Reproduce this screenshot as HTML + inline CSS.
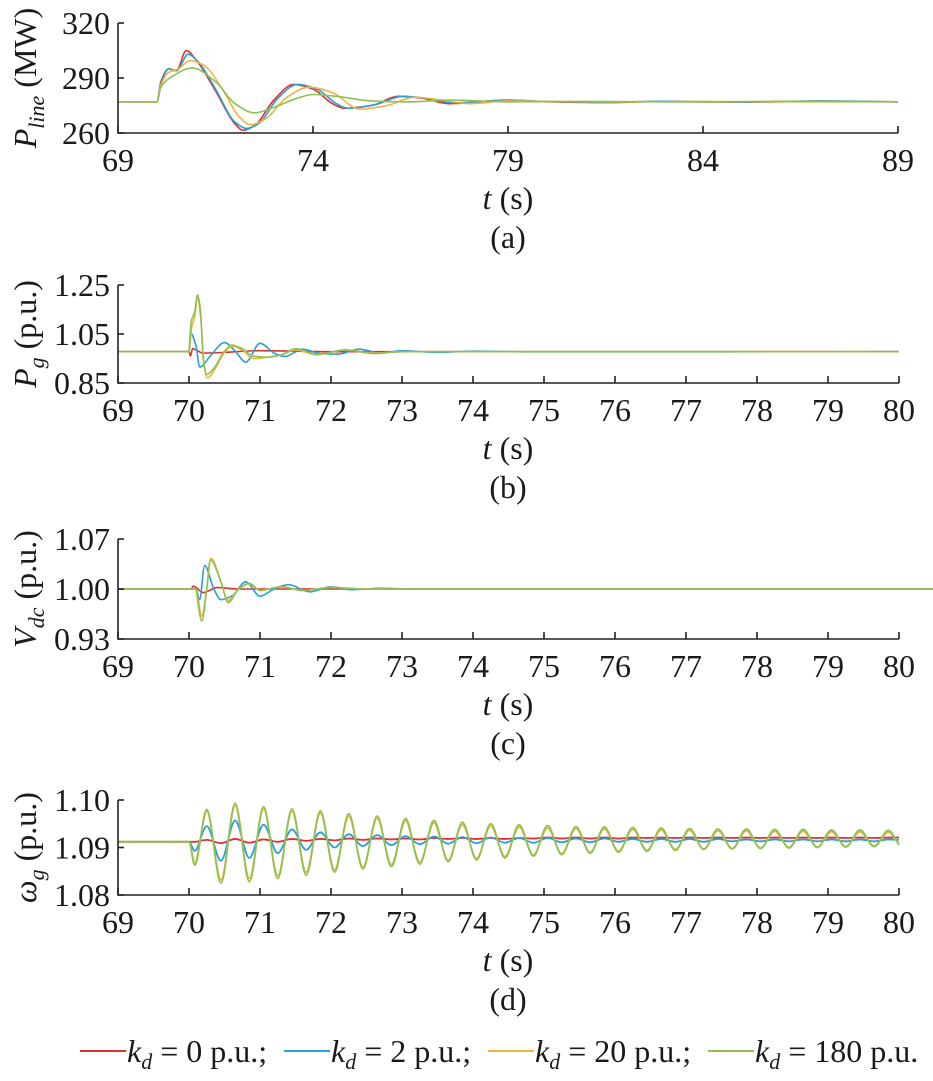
<!DOCTYPE html>
<html><head><meta charset="utf-8">
<style>
html,body{margin:0;padding:0;background:#fff;}
svg{display:block;font-family:"Liberation Serif",serif;}
</style></head>
<body>
<svg id="fig" width="933" height="1081" viewBox="0 0 933 1081" xmlns="http://www.w3.org/2000/svg"></svg>
<script>
// ---------- Panel (a): P_line (MW) ----------
const aRedT = [69,70,70.1,70.3,70.5,70.75,71,71.5,72,72.2,72.5,73,73.5,74,74.5,74.8,75.5,76.2,76.8,77.5,78,78.5,79,80,81.5,83,85,87,89];
const aRedV = [277,277,288,295,294,305,300,283,265,261.5,264,278,286.5,284,276,273.5,275,280,279,276,276.5,277.5,278,277,276.6,277.2,276.8,277.4,277];
const aBlueT = [69,70,70.1,70.3,70.5,70.8,71.05,71.5,72,72.3,72.6,73.1,73.6,74.1,74.6,74.9,75.6,76.3,76.9,77.6,78.2,79,80,81.5,83,85,87,89];
const aBlueV = [277,277,287,295,294,303,299,284,266,262.5,265,279,286.5,284,276,273.5,275.5,280,279,276.5,277,278,277.2,276.8,277.3,276.9,277.5,277];
const aOrangeT = [69,70,70.1,70.3,70.55,70.85,71.2,71.7,72.1,72.4,72.8,73.3,73.9,74.5,75.2,75.9,76.6,77.3,78,79,80,82,84,86,89];
const aOrangeV = [277,277,286,293,295,299.5,297,283,269,264.5,268,279,285,282,273,275,279.5,278,276,277.5,277.2,276.9,277.2,277,277];
const aGreenT = [69,70,70.1,70.4,70.9,71.5,72,72.5,73,73.6,74,74.6,75.5,76.5,77.5,79,81,84,86,89];
const aGreenV = [277,277,285,291,295.5,288,276,271,274,279,281,280,277.5,277,278,277,277.2,276.9,277.3,277];
const aYTicks = [260,290,320];
const aXTicks = [69,74,79,84,89];

// ---------- Panel (b): P_g (p.u.) ----------
const bRedT = [69,70,70.02,70.05,70.2,70.5,71,72,80];
const bRedV = [0.978,0.978,0.96,0.99,0.972,0.975,0.982,0.978,0.978];
const bBlueT = [69,70,70.02,70.1,70.15,70.3,70.5,70.65,70.8,71,71.2,71.35,71.6,71.85,72.1,72.4,72.7,73,73.5,74,75,80];
const bBlueV = [0.978,0.978,1.055,1.0,0.915,0.96,1.015,0.98,0.935,1.012,0.972,0.958,0.988,0.97,0.968,0.988,0.972,0.982,0.975,0.98,0.977,0.978];
const bOrangeT = [69,70,70.04,70.08,70.12,70.17,70.21,70.26,70.35,70.5,70.6,70.75,70.9,71.1,71.3,71.5,71.8,72.2,72.6,73,80];
const bOrangeV = [0.978,0.978,1.08,1.12,1.2,1.1,0.93,0.87,0.9,0.975,1.0,0.985,0.95,0.955,0.965,0.985,0.965,0.985,0.972,0.978,0.978];
const bGreenT = [69,70,70.03,70.08,70.12,70.16,70.2,70.25,70.35,70.5,70.6,70.75,70.9,71.1,71.3,71.5,71.8,72.2,72.6,73,80];
const bGreenV = [0.978,0.978,1.1,1.14,1.21,1.15,0.95,0.885,0.91,0.98,1.005,0.99,0.96,0.955,0.965,0.99,0.967,0.985,0.97,0.978,0.978];
const bYTicks = [0.85,1.05,1.25];
const bYLabels = ["0.85","1.05","1.25"];
const xTicks11 = [69,70,71,72,73,74,75,76,77,78,79,80];

// ---------- Panel (c): V_dc (p.u.) ----------
const cRedT = [69,70.03,70.06,70.2,70.4,70.7,80.5];
const cRedV = [1.0,1.0,1.004,0.995,1.002,1.0,1.0];
const cBlueT = [69,70.1,70.15,70.22,70.35,70.45,70.6,70.8,71,71.2,71.4,71.7,72,72.3,72.7,73.2,80.5];
const cBlueV = [1.0,1.0,0.985,1.033,1.0,0.985,0.99,1.01,0.99,1.0,1.006,0.996,1.003,0.999,1.001,1.0,1.0];
const cOrangeT = [69,70.1,70.13,70.18,70.25,70.31,70.45,70.55,70.7,70.85,71,71.3,71.6,72,72.5,80.5];
const cOrangeV = [1.0,1.0,0.985,0.962,1.0,1.043,1.01,0.984,1.0,1.007,0.998,1.003,0.998,1.002,1.0,1.0];
const cGreenT = [69,70.1,70.12,70.18,70.25,70.3,70.45,70.55,70.7,70.85,71,71.3,71.6,72,72.5,80.5];
const cGreenV = [1.0,1.0,0.985,0.955,1.0,1.041,1.01,0.981,1.0,1.008,0.998,1.003,0.998,1.002,1.0,1.0];
const cYTicks = [0.93,1.0,1.07];
const cYLabels = ["0.93","1.00","1.07"];

// ---------- Panel (d): omega_g (p.u.) ----------
const dPeakT = [70.25,70.65,71.05,71.45,71.85,72.25,72.65,73.05,73.45,73.85,74.25,74.65,75.05,75.45,75.85,76.25,76.65,77.05,77.45,77.85,78.25,78.65,79.05,79.45,79.85];
const dTroughT = [70.08,70.45,70.85,71.25,71.65,72.05,72.45,72.85,73.25,73.65,74.05,74.45,74.85,75.25,75.65,76.05,76.45,76.85,77.25,77.65,78.05,78.45,78.85,79.25,79.65];
const dGreenMax = [1.0980,1.0993,1.0986,1.0981,1.0977,1.0971,1.0966,1.0961,1.0957,1.0953,1.0950,1.0948,1.0946,1.0944,1.0943,1.0942,1.0941,1.0940,1.0939,1.0939,1.0938,1.0938,1.0937,1.0937,1.0936];
const dGreenMin = [1.0863,1.0825,1.0828,1.0835,1.0842,1.0848,1.0855,1.0860,1.0865,1.0870,1.0874,1.0878,1.0882,1.0885,1.0888,1.0890,1.0892,1.0894,1.0896,1.0897,1.0898,1.0899,1.0900,1.0901,1.0902];
const dOrangeMax = [1.0976,1.0988,1.0981,1.0976,1.0972,1.0966,1.0961,1.0956,1.0952,1.0948,1.0945,1.0943,1.0941,1.0940,1.0939,1.0938,1.0937,1.0936,1.0935,1.0935,1.0934,1.0934,1.0933,1.0933,1.0932];
const dOrangeMin = [1.0868,1.0832,1.0835,1.0841,1.0848,1.0853,1.0859,1.0864,1.0869,1.0873,1.0877,1.0881,1.0884,1.0887,1.0890,1.0892,1.0894,1.0896,1.0897,1.0898,1.0899,1.0900,1.0901,1.0902,1.0903];
const dBlueMax = [1.0945,1.0957,1.0948,1.0938,1.0932,1.0928,1.0926,1.0924,1.0923,1.0922,1.0921,1.0920,1.0920,1.0919,1.0919,1.0918,1.0918,1.0918,1.0918,1.0917,1.0917,1.0917,1.0917,1.0917,1.0917];
const dBlueMin = [1.0893,1.0872,1.0878,1.0888,1.0895,1.0900,1.0903,1.0905,1.0907,1.0908,1.0909,1.0910,1.0910,1.0911,1.0911,1.0912,1.0912,1.0912,1.0912,1.0913,1.0913,1.0913,1.0913,1.0913,1.0913];
const dRedMax = [1.0916,1.0918,1.0917,1.0918,1.0918,1.0919,1.0919,1.0919,1.0920,1.0920,1.0920,1.0920,1.0921,1.0921,1.0921,1.0921,1.0921,1.0921,1.0921,1.0921,1.0921,1.0921,1.0921,1.0921,1.0921];
const dRedMin = [1.0912,1.0909,1.0910,1.0912,1.0914,1.0915,1.0916,1.0917,1.0917,1.0918,1.0918,1.0918,1.0919,1.0919,1.0919,1.0919,1.0920,1.0920,1.0920,1.0920,1.0920,1.0920,1.0920,1.0920,1.0920];
const dBase = 1.0912;
const dEnd = [1.0921,1.0916,1.0908,1.0906];
const dYTicks = [1.08,1.09,1.10];
const dYLabels = ["1.08","1.09","1.10"];

const COLORS = ["#e2312b","#2b9fd9","#f2b33d","#8dc253"];
const NAMES = ["red","blue","orange","green"];
const NS = "http://www.w3.org/2000/svg";
const svg = document.getElementById("fig");

function el(tag, attrs, parent){
  const e = document.createElementNS(NS, tag);
  for (const k in attrs) e.setAttribute(k, attrs[k]);
  (parent||svg).appendChild(e);
  return e;
}
// monotone cubic (Fritsch-Carlson) path, no overshoot
function spline(pts){
  const n = pts.length;
  const dx=[], m=[];
  for (let i=0;i<n-1;i++){ dx.push(pts[i+1][0]-pts[i][0]); m.push(dx[i]===0?0:(pts[i+1][1]-pts[i][1])/dx[i]); }
  const tg=[m[0]];
  for (let i=1;i<n-1;i++){
    if (m[i-1]*m[i]<=0) tg.push(0);
    else { const w1=2*dx[i]+dx[i-1], w2=dx[i]+2*dx[i-1]; tg.push((w1+w2)/(w1/m[i-1]+w2/m[i])); }
  }
  tg.push(m[n-2]);
  let d = "M"+pts[0][0].toFixed(2)+","+pts[0][1].toFixed(2);
  for (let i=0;i<n-1;i++){
    const h=dx[i]/3;
    d+=" C"+(pts[i][0]+h).toFixed(2)+","+(pts[i][1]+tg[i]*h).toFixed(2)+" "+(pts[i+1][0]-h).toFixed(2)+","+(pts[i+1][1]-tg[i+1]*h).toFixed(2)+" "+pts[i+1][0].toFixed(2)+","+pts[i+1][1].toFixed(2);
  }
  return d;
}

function panel(cfg){
  const g = el("g",{});
  
  
  const X = t => cfg.x0 + (t-cfg.xmin)/(cfg.xmax-cfg.xmin)*(cfg.x1-cfg.x0);
  const Y = v => cfg.yBot - (v-cfg.ymin)/(cfg.ymax-cfg.ymin)*(cfg.yBot-cfg.yTop);
  cfg.series.forEach((s,i)=>{
    const pts = s.t.map((t,j)=>[X(t),Y(s.v[j])]);
    const p = el("path",{d:spline(pts),fill:"none",stroke:COLORS[i],"stroke-width":cfg.lw||1.6,"stroke-linejoin":"round"},g);
    
    
  });
  const ax = el("path",{d:"M"+cfg.x0+","+cfg.yTop+" V"+cfg.yBot+" H"+cfg.x1,fill:"none",stroke:"#222","stroke-width":1.6},g);
  
  
  cfg.yTicks.forEach((v,i)=>{
    const y=Y(v);
    el("line",{x1:cfg.x0,x2:cfg.x0+6,y1:y,y2:y,stroke:"#222","stroke-width":1.6},g);
    const tx = el("text",{x:cfg.x0-8,y:y+11,"text-anchor":"end","font-size":32,fill:"#1a1a1a"},g);
    
    
    tx.textContent = cfg.yLabels[i];
  });
  cfg.xTicks.forEach(t=>{
    const x=X(t);
    el("line",{x1:x,x2:x,y1:cfg.yBot,y2:cfg.yBot-7,stroke:"#222","stroke-width":1.6},g);
    const tx = el("text",{x:x,y:cfg.yBot+38,"text-anchor":"middle","font-size":32,fill:"#1a1a1a"},g);
    
    
    tx.textContent = String(t);
  });
  const xt = el("text",{x:508,y:cfg.yBot+76,"text-anchor":"middle","font-size":32,fill:"#1a1a1a"},g);
  
  
  xt.innerHTML = '<tspan font-style="italic">t</tspan> (s)';
  const cap = el("text",{x:508,y:cfg.yBot+115,"text-anchor":"middle","font-size":32,fill:"#1a1a1a"},g);
  
  
  cap.textContent = cfg.caption;
  const yt = el("text",{x:0,y:0,"text-anchor":"middle","font-size":32,fill:"#1a1a1a",transform:"translate("+(cfg.ylx)+","+((cfg.yTop+cfg.yBot)/2)+") rotate(-90)"},g);
  
  
  yt.innerHTML = cfg.ytitle;
}

function dSeries(maxV, minV, endV){
  const pts = [[69,dBase],[70.0,dBase]];
  for (let k=0;k<dTroughT.length;k++){
    pts.push([dTroughT[k],minV[k]]);
    pts.push([dPeakT[k],maxV[k]]);
  }
  pts.push([80,endV]);
  return {t:pts.map(p=>p[0]), v:pts.map(p=>p[1])};
}

panel({name:"panel-a",x0:118,x1:898,xmin:69,xmax:89,yTop:23,yBot:133,ymin:260,ymax:320,
  yTicks:aYTicks,yLabels:aYTicks.map(String),xTicks:aXTicks,caption:"(a)",ylx:36,
  ytitle:'<tspan font-style="italic">P</tspan><tspan font-style="italic" font-size="22" dy="8">line</tspan><tspan dy="-8"> (MW)</tspan>',
  series:[{t:aRedT,v:aRedV},{t:aBlueT,v:aBlueV},{t:aOrangeT,v:aOrangeV},{t:aGreenT,v:aGreenV}]});
panel({name:"panel-b",x0:118,x1:899,xmin:69,xmax:80,yTop:285,yBot:383,ymin:0.85,ymax:1.25,
  yTicks:bYTicks,yLabels:bYLabels,xTicks:xTicks11,caption:"(b)",ylx:36,
  ytitle:'<tspan font-style="italic">P</tspan><tspan font-style="italic" font-size="22" dy="8">g</tspan><tspan dy="-8"> (p.u.)</tspan>',
  series:[{t:bRedT,v:bRedV},{t:bBlueT,v:bBlueV},{t:bOrangeT,v:bOrangeV},{t:bGreenT,v:bGreenV}]});
panel({name:"panel-c",x0:118,x1:899,xmin:69,xmax:80,yTop:539,yBot:639,ymin:0.93,ymax:1.07,
  yTicks:cYTicks,yLabels:cYLabels,xTicks:xTicks11,caption:"(c)",ylx:36,
  ytitle:'<tspan font-style="italic">V</tspan><tspan font-style="italic" font-size="22" dy="8">dc</tspan><tspan dy="-8"> (p.u.)</tspan>',
  series:[{t:cRedT,v:cRedV},{t:cBlueT,v:cBlueV},{t:cOrangeT,v:cOrangeV},{t:cGreenT,v:cGreenV}]});
panel({name:"panel-d",x0:118,x1:899,xmin:69,xmax:80,yTop:800,yBot:895,ymin:1.08,ymax:1.10,lw:1.8,
  yTicks:dYTicks,yLabels:dYLabels,xTicks:xTicks11,caption:"(d)",ylx:36,
  ytitle:'<tspan font-style="italic">ω</tspan><tspan font-style="italic" font-size="22" dy="8">g</tspan><tspan dy="-8"> (p.u.)</tspan>',
  series:[dSeries(dRedMax,dRedMin,dEnd[0]),dSeries(dBlueMax,dBlueMin,dEnd[1]),dSeries(dOrangeMax,dOrangeMin,dEnd[2]),dSeries(dGreenMax,dGreenMin,dEnd[3])]});

const legendLabels = ["0","2","20","180"];
const legX = [80,284,488,708];
const lg = el("g",{});


legendLabels.forEach((lab,i)=>{
  const ln = el("line",{x1:legX[i],x2:legX[i]+46,y1:1051,y2:1051,stroke:COLORS[i],"stroke-width":2},lg);
  
  
  const tx = el("text",{x:legX[i]+47,y:1062,"font-size":32,fill:"#1a1a1a"},lg);
  
  
  tx.innerHTML = '<tspan font-style="italic">k</tspan><tspan font-style="italic" font-size="22" dy="7">d</tspan><tspan dy="-7"> = '+lab+' p.u.'+(i<3?';':'')+'</tspan>';
});
</script>
</body></html>
